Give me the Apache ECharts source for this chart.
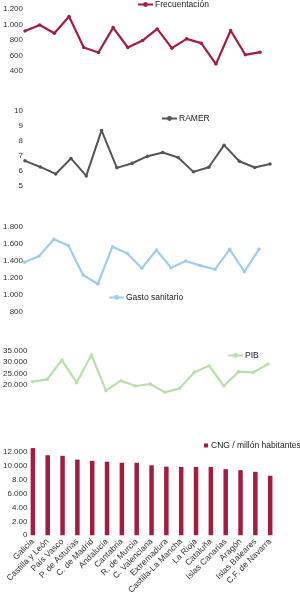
<!DOCTYPE html>
<html>
<head>
<meta charset="utf-8">
<script src="https://cdn.jsdelivr.net/npm/echarts@6/dist/echarts.min.js"></script>
<style>
html, body { margin: 0; padding: 0; background: #fff; }
#chart { width: 300px; height: 597px; }
</style>
</head>
<body>
<div id="chart"></div>
<script>
// comunidades autónomas, mismo orden en los cinco paneles
var regiones = ['Galicia', 'Castilla y León', 'País Vasco', 'P. de Asturias', 'C. de Madrid', 'Andalucía',
    'Cantabria', 'R. de Murcia', 'C. Valenciana', 'Extremadura', 'Castilla-La Mancha', 'La Rioja',
    'Cataluña', 'Islas Canarias', 'Aragón', 'Islas Baleares', 'C.F. de Navarra'];
var frecuentacion = [917, 994, 887, 1102, 703, 639, 960, 703, 793, 943, 695, 815, 759, 489, 922, 609, 643];
var ramer = [6.64, 6.23, 5.76, 6.8, 5.63, 8.68, 6.17, 6.48, 6.95, 7.2, 6.86, 5.9, 6.21, 7.69, 6.61, 6.19, 6.43];
var gasto = [1383, 1458, 1655, 1580, 1234, 1127, 1568, 1490, 1312, 1529, 1320, 1399, 1344, 1300, 1537, 1273, 1537];
var pib = [21443, 22464, 30918, 21006, 33105, 17507, 21880, 19548, 20423, 16778, 18528, 25525, 28440, 19548, 25816, 25525, 29169];
var cng = [12560, 11530, 11450, 10900, 10730, 10600, 10450, 10450, 10080, 9890, 9840, 9840, 9840, 9520, 9380, 9140, 8580];
var cngTicks = ['0', '2.00', '4.00', '6.000', '8.00', '10.000', '12.000', ''];

var rojo = '#a41c3e', gris = '#555555', azul = '#9fcdec', verde = '#b8dfaa';
var fuente = 'Liberation Sans, Arial, sans-serif';

function miles(v) {
    var s = String(Math.round(v));
    return s.replace(/\B(?=(\d{3})+(?!\d))/g, '.');
}

function ejeX(i) {
    return {
        type: 'category', gridIndex: i, data: regiones, boundaryGap: false,
        axisLine: {show: false}, axisTick: {show: false}, axisLabel: {show: false}, splitLine: {show: false}
    };
}
function ejeY(i, min, max, step, margin) {
    return {
        type: 'value', gridIndex: i, min: min, max: max, interval: step,
        axisLine: {show: false}, axisTick: {show: false}, splitLine: {show: false},
        axisLabel: {fontSize: 8, color: '#333', fontFamily: fuente, margin: margin, formatter: miles}
    };
}
function linea(nombre, i, datos, color, ancho) {
    return {
        name: nombre, type: 'line', xAxisIndex: i, yAxisIndex: i, data: datos,
        symbol: 'circle', symbolSize: 3.5, showSymbol: true,
        lineStyle: {color: color, width: ancho}, itemStyle: {color: color}
    };
}
function leyenda(nombre, left, top, icono) {
    var l = {
        data: [nombre], left: left, top: top, padding: 0, itemGap: 0,
        itemWidth: 15, itemHeight: 6,
        textStyle: {fontSize: 8.5, color: '#222', fontFamily: fuente, padding: [0, 0, 0, -3]}
    };
    if (icono) {
        l.icon = icono; l.itemWidth = 4; l.itemHeight = 4;
        l.textStyle.padding = [0, 0, 0, -2];
    }
    return l;
}

var myChart = echarts.init(document.getElementById('chart'));
var xCng = {
    type: 'category', gridIndex: 4, data: regiones, boundaryGap: true,
    axisLine: {show: false}, axisTick: {show: false}, splitLine: {show: false},
    axisLabel: {interval: 0, rotate: 45, fontSize: 8.5, color: '#333', fontFamily: fuente, margin: 5}
};
var yCng = ejeY(4, 0, 14000, 2000, -2);
yCng.axisLabel.formatter = function (v) { return cngTicks[v / 2000]; };
// el PIB baja de 20.000: el eje sigue hasta 15.000 sin etiqueta
var yPib = ejeY(3, 15000, 35000, 5000, 5);
yPib.axisLabel.formatter = function (v) { return v < 20000 ? '' : miles(v); };

myChart.setOption({
    animation: false,
    backgroundColor: '#fff',
    grid: [
        {left: 25, right: 40, top: 9, height: 62},
        {left: 25, right: 30, top: 110.7, height: 74.6},
        {left: 24, right: 41, top: 227, height: 84.7},
        {left: 28, right: 32, top: 350.7, height: 45.7},
        {left: 20.4, right: 22.4, top: 438.1, height: 99.6}
    ],
    legend: [
        leyenda('Frecuentación', 137, 0),
        leyenda('RAMER', 161, 114),
        leyenda('Gasto sanitario', 108, 293),
        leyenda('PIB', 227, 351),
        leyenda('CNG / millón habitantes', 204, 441, 'rect')
    ],
    xAxis: [ejeX(0), ejeX(1), ejeX(2), ejeX(3), xCng],
    yAxis: [
        ejeY(0, 400, 1200, 200, 2),
        ejeY(1, 5, 10, 1, 2),
        ejeY(2, 800, 1800, 200, 1.5),
        yPib,
        yCng
    ],
    series: [
        linea('Frecuentación', 0, frecuentacion, rojo, 2.2),
        linea('RAMER', 1, ramer, gris, 2),
        linea('Gasto sanitario', 2, gasto, azul, 2.2),
        linea('PIB', 3, pib, verde, 2.2),
        {
            name: 'CNG / millón habitantes', type: 'bar', xAxisIndex: 4, yAxisIndex: 4,
            data: cng, barWidth: 4.5, itemStyle: {color: rojo}
        }
    ]
});
</script>
</body>
</html>
